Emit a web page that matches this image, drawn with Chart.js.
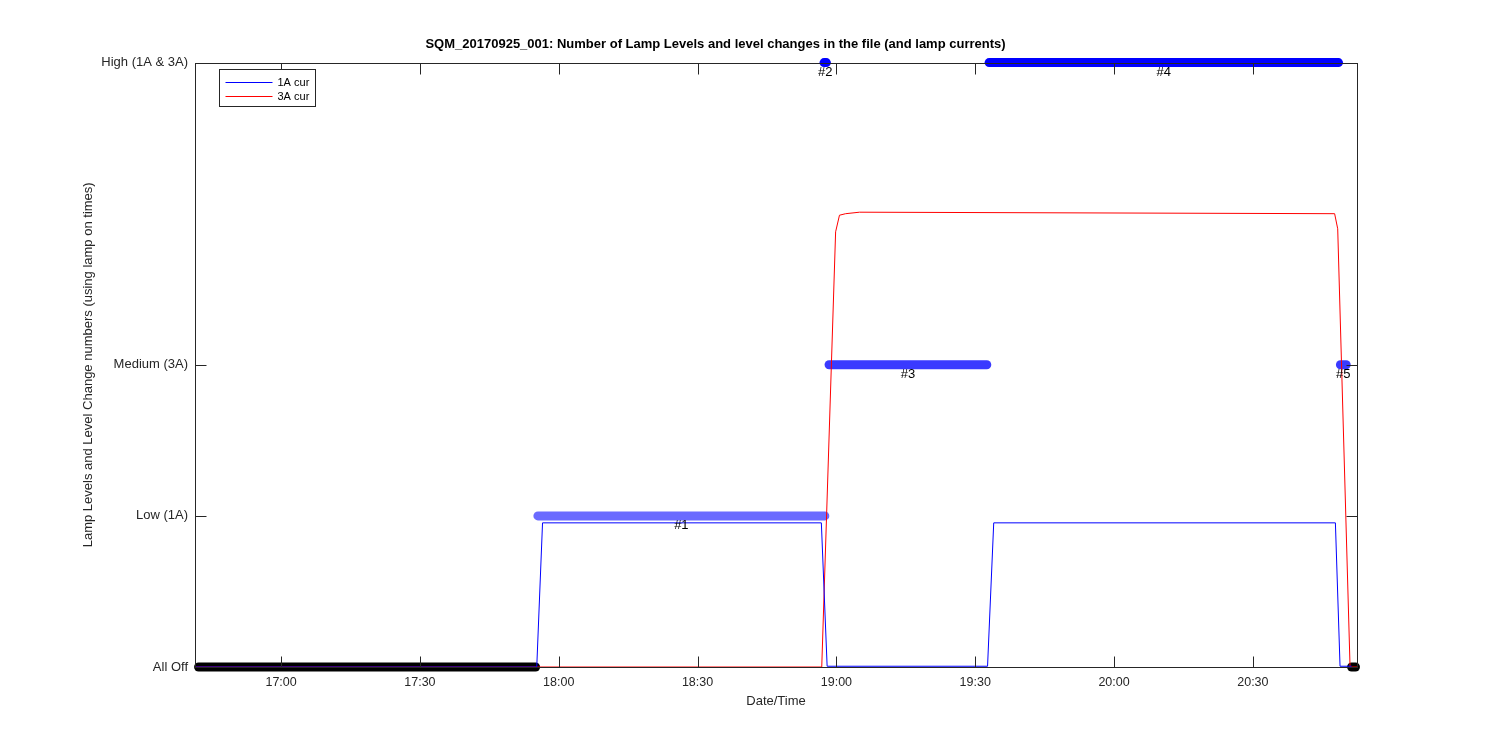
<!DOCTYPE html>
<html>
<head>
<meta charset="utf-8">
<script src="https://cdn.jsdelivr.net/npm/chart.js@4.4.1/dist/chart.umd.min.js"></script>
<style>
  html, body { margin: 0; padding: 0; background: #fff; }
</style>
</head>
<body>
<canvas id="lampChart" width="1500" height="750"></canvas>
<script>
// times are HH:MM:SS on 2017-09-25
var xMin = '16:41:24';
var xMax = '20:52:30';
var xTickTimes = ['17:00', '17:30', '18:00', '18:30', '19:00', '19:30', '20:00', '20:30'];
var levelValues = [0, 1, 2, 4];
var levelNames = ['All Off', 'Low (1A)', 'Medium (3A)', 'High (1A & 3A)'];

// lamp currents
var curNames = ['1A cur', '3A cur'];
var curColors = ['#0000ff', '#ff0000'];
var cur1ATimes = ['16:41:24', '17:55:15', '17:56:30', '18:56:45', '18:58:00', '19:32:40', '19:34:00', '20:47:50', '20:48:50', '20:51:20'];
var cur1AValues = [0, 0, 0.954, 0.954, 0.005, 0.005, 0.954, 0.954, 0.005, 0.005];
var cur3ATimes = ['16:41:24', '18:56:50', '18:59:50', '19:00:40', '19:02:00', '19:05:00', '20:47:40', '20:48:20', '20:51:00', '20:52:30'];
var cur3AValues = [0, 0, 2.88, 2.99, 3.0, 3.01, 3.0, 2.9, 0, 0];

// lamp level changes (using lamp on times)
var changeStart = ['16:42:10', '17:55:30', '18:57:20', '18:58:25', '19:33:00', '20:48:55', '20:51:20'];
var changeEnd = ['17:55:00', '18:57:30', '18:57:50', '19:32:30', '20:48:30', '20:50:10', '20:52:10'];
var changeLevel = [0, 1, 4, 2, 4, 2, 0];
var changeLabel = ['', '#1', '#2', '#3', '#4', '#5', ''];
var changeColor = ['#000000', '#6b6bff', '#0000ff', '#3a3aff', '#0000ff', '#3a3aff', '#000000'];

var fontFamily = '"Liberation Sans", Arial, sans-serif';

function toMin(s) {
    var p = s.split(':');
    return +p[0] * 60 + +p[1] + (p[2] ? +p[2] / 60 : 0);
}

function fmtTime(m) {
    var h = Math.floor(m / 60), mm = Math.round(m - h * 60);
    return h + ':' + (mm < 10 ? '0' : '') + mm;
}

function pairs(times, values) {
    return times.map(function (t, i) { return { x: toMin(t), y: values[i] }; });
}

var datasets = [
    {
        label: curNames[0],
        data: pairs(cur1ATimes, cur1AValues),
        borderColor: curColors[0],
        borderWidth: 1,
        pointRadius: 0,
        tension: 0
    },
    {
        label: curNames[1],
        data: pairs(cur3ATimes, cur3AValues),
        borderColor: curColors[1],
        borderWidth: 1,
        pointRadius: 0,
        tension: 0
    }
];

changeStart.forEach(function (s, i) {
    datasets.push({
        label: changeLabel[i],
        data: [{ x: toMin(s), y: changeLevel[i] }, { x: toMin(changeEnd[i]), y: changeLevel[i] }],
        borderColor: changeColor[i],
        borderWidth: 9,
        borderCapStyle: 'round',
        pointRadius: 0,
        clip: false
    });
});

// MATLAB style box with inward ticks on all four sides
var axisBox = {
    id: 'axisBox',
    afterDraw: function (chart) {
        var ctx = chart.ctx, a = chart.chartArea;
        var xs = chart.scales.x, ys = chart.scales.y;
        var len = 11;
        var l = Math.round(a.left) + 0.5, r = Math.round(a.right) + 0.5;
        var t = Math.round(a.top) + 0.5, b = Math.round(a.bottom) + 0.5;
        ctx.save();
        ctx.strokeStyle = '#262626';
        ctx.lineWidth = 1;
        ctx.beginPath();
        xs.ticks.forEach(function (tk) {
            var px = Math.round(xs.getPixelForValue(tk.value)) + 0.5;
            ctx.moveTo(px, b); ctx.lineTo(px, b - len);
            ctx.moveTo(px, t); ctx.lineTo(px, t + len);
        });
        ys.ticks.forEach(function (tk) {
            var py = Math.round(ys.getPixelForValue(tk.value)) + 0.5;
            ctx.moveTo(l, py); ctx.lineTo(l + len, py);
            ctx.moveTo(r, py); ctx.lineTo(r - len, py);
        });
        ctx.stroke();
        ctx.strokeRect(l, t, r - l, b - t);
        ctx.restore();
    }
};

// "#n" under each level change bar
var changeLabels = {
    id: 'changeLabels',
    afterDatasetsDraw: function (chart) {
        var ctx = chart.ctx, xs = chart.scales.x, ys = chart.scales.y;
        ctx.save();
        ctx.font = '13px ' + fontFamily;
        ctx.fillStyle = '#000';
        ctx.textAlign = 'center';
        ctx.textBaseline = 'top';
        changeLabel.forEach(function (lab, i) {
            if (!lab) return;
            var x = (xs.getPixelForValue(toMin(changeStart[i])) + xs.getPixelForValue(toMin(changeEnd[i]))) / 2;
            var y = ys.getPixelForValue(changeLevel[i]) + 3;
            ctx.fillText(lab, x, y);
        });
        ctx.restore();
    }
};

// boxed legend in the upper left of the axes
var boxLegend = {
    id: 'boxLegend',
    afterDraw: function (chart) {
        var ctx = chart.ctx, a = chart.chartArea;
        var x0 = Math.round(a.left) + 24.5, y0 = Math.round(a.top) + 6.5;
        ctx.save();
        ctx.fillStyle = '#fff';
        ctx.fillRect(x0, y0, 96, 37);
        ctx.lineWidth = 1;
        ctx.strokeStyle = '#262626';
        ctx.strokeRect(x0, y0, 96, 37);
        ctx.font = '11px ' + fontFamily;
        ctx.textBaseline = 'middle';
        curNames.forEach(function (name, i) {
            var y = Math.round(y0 + 12 + i * 14.5) + 0.5;
            ctx.beginPath();
            ctx.strokeStyle = curColors[i];
            ctx.moveTo(x0 + 6, y);
            ctx.lineTo(x0 + 53, y);
            ctx.stroke();
            ctx.fillStyle = '#000';
            ctx.fillText(name, x0 + 58, y);
        });
        ctx.restore();
    }
};

var ctx = document.getElementById('lampChart');
var lampChart = new Chart(ctx, {
    type: 'line',
    data: { datasets: datasets },
    options: {
        responsive: false,
        devicePixelRatio: 1,
        animation: false,
        layout: { padding: { left: 74, right: 143, top: 0, bottom: 0 } },
        plugins: {
            legend: { display: false },
            tooltip: { enabled: false },
            title: {
                display: true,
                text: 'SQM_20170925_001: Number of Lamp Levels and level changes in the file (and lamp currents)',
                color: '#000',
                font: { family: fontFamily, size: 13, weight: 'bold' },
                padding: { top: 37, bottom: 10 }
            }
        },
        scales: {
            x: {
                type: 'linear',
                min: toMin(xMin),
                max: toMin(xMax),
                afterBuildTicks: function (scale) {
                    scale.ticks = xTickTimes.map(function (t) { return { value: toMin(t) }; });
                },
                afterFit: function (scale) { scale.height = 83; },
                grid: { display: false, drawTicks: false },
                border: { display: false },
                ticks: {
                    autoSkip: false,
                    maxRotation: 0,
                    padding: 8,
                    color: '#262626',
                    font: { family: fontFamily, size: 12.5 },
                    callback: function (v) { return fmtTime(v); }
                },
                title: {
                    display: true,
                    text: 'Date/Time',
                    color: '#262626',
                    font: { family: fontFamily, size: 13 },
                    padding: { top: 0, bottom: 41 }
                }
            },
            y: {
                type: 'linear',
                min: 0,
                max: 4,
                afterBuildTicks: function (scale) {
                    scale.ticks = levelValues.map(function (v) { return { value: v }; });
                },
                afterFit: function (scale) { scale.width = 121; },
                grid: { display: false, drawTicks: false },
                border: { display: false },
                ticks: {
                    autoSkip: false,
                    padding: 7,
                    color: '#262626',
                    font: { family: fontFamily, size: 13 },
                    callback: function (v) { return levelNames[levelValues.indexOf(v)]; }
                },
                title: {
                    display: true,
                    text: 'Lamp Levels and Level Change numbers (using lamp on times)',
                    color: '#262626',
                    font: { family: fontFamily, size: 13 },
                    padding: { top: 7, bottom: 0 }
                }
            }
        }
    },
    plugins: [changeLabels, axisBox, boxLegend]
});
</script>
</body>
</html>
